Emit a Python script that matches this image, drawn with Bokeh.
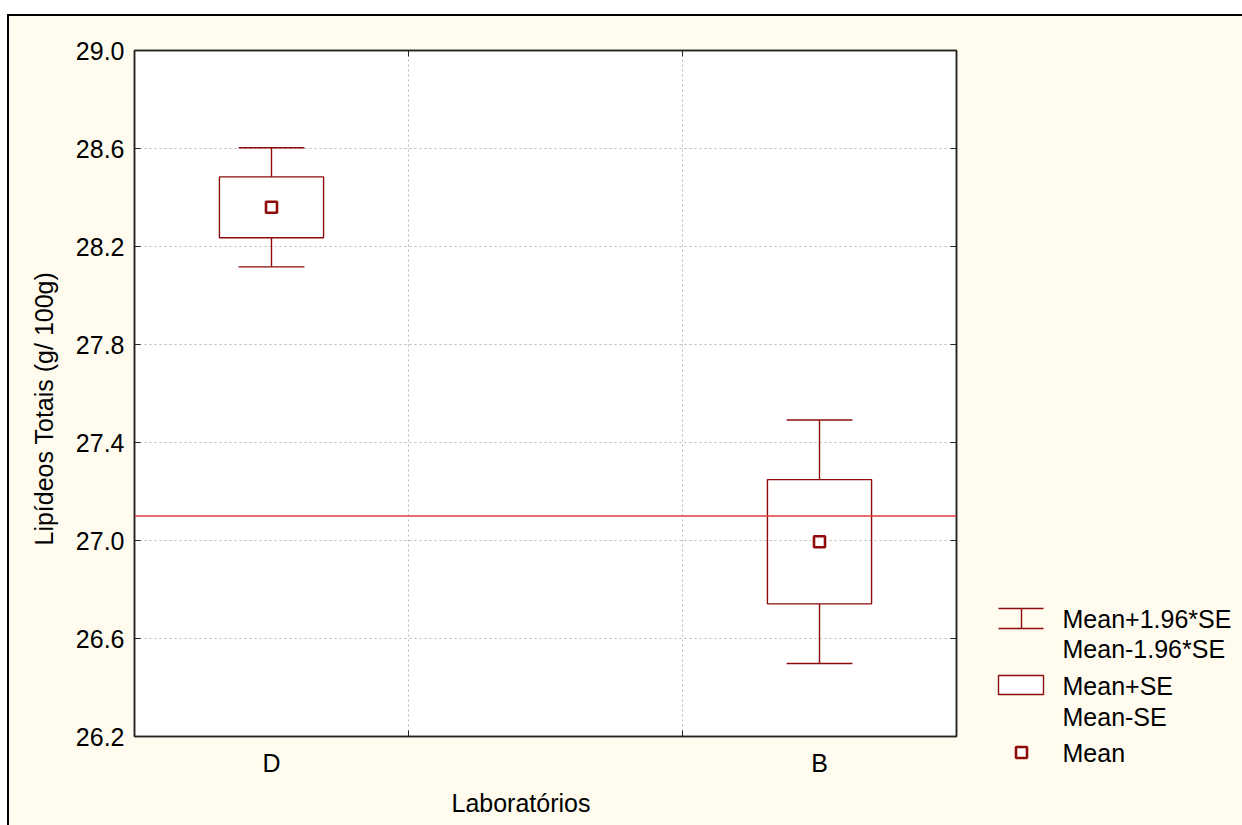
from bokeh.plotting import figure
from bokeh.models import Range1d, FixedTicker, LinearAxis, Span, Title, NumeralTickFormatter
from bokeh.layouts import row
from bokeh.embed import file_html
from bokeh.resources import INLINE

# ---- data -------------------------------------------------------------
labs = ["D", "B"]                 # laboratories
means = [28.36, 26.995]           # mean total lipids (g/100g)
se = [0.124, 0.2535]              # standard error of each mean
overall_mean = 27.10              # reference line across both labs
y_ticks = [26.2, 26.6, 27.0, 27.4, 27.8, 28.2, 28.6, 29.0]
legend_labels = ["Mean+1.96*SE", "Mean-1.96*SE", "Mean+SE", "Mean-SE", "Mean"]

# ---- style ------------------------------------------------------------
CREAM = "#FFFCEF"
DARKRED = "#8E0B0B"
RED = "#E23A3A"
FONT = "Liberation Sans"
FS = "25px"

xpos = [0.5 + 2 * i for i in range(len(labs))]
box_lo = [m - s for m, s in zip(means, se)]
box_hi = [m + s for m, s in zip(means, se)]
wh_lo = [m - 1.96 * s for m, s in zip(means, se)]
wh_hi = [m + 1.96 * s for m, s in zip(means, se)]
BOX_W = 0.38
CAP_W = 0.24

# page geometry: chart canvas starts at (9, 16); key panel starts at x = 980
FRAME_L, FRAME_R, FRAME_T, FRAME_B = 134, 956, 50, 736
KEY_X = 980

p = figure(width=KEY_X - 9, height=809, x_range=Range1d(0, 3), y_range=Range1d(y_ticks[0], y_ticks[-1]),
           output_backend="svg", toolbar_location=None,
           min_border_left=FRAME_L - 9, min_border_right=KEY_X - FRAME_R,
           min_border_top=FRAME_T - 16, min_border_bottom=825 - FRAME_B,
           background_fill_color="white", border_fill_color=CREAM,
           outline_line_color="#222222", outline_line_width=1.5)
p.frame_align = False

# bottom axis: category labels, inward ticks at the slot boundaries
xa = p.xaxis[0]
xa.ticker = FixedTicker(ticks=xpos, minor_ticks=[1, 2])
xa.major_label_overrides = {x: l for x, l in zip(xpos, labs)}
xa.major_tick_in = 0
xa.major_tick_out = 0
xa.minor_tick_in = 6
xa.minor_tick_out = 0
xa.major_label_standoff = 12

ya = p.yaxis[0]
ya.ticker = FixedTicker(ticks=y_ticks)
ya.formatter = NumeralTickFormatter(format="0.0")
ya.major_tick_in = 6
ya.major_tick_out = 0
ya.major_label_standoff = 10

top = LinearAxis(ticker=FixedTicker(ticks=[], minor_ticks=[1, 2]),
                 minor_tick_in=6, minor_tick_out=0, major_tick_in=0, major_tick_out=0)
right = LinearAxis(ticker=FixedTicker(ticks=y_ticks), major_tick_in=6, major_tick_out=0)
p.add_layout(top, "above")
p.add_layout(right, "right")

for ax in [xa, ya, top, right]:
    ax.axis_line_color = "#222222"
    ax.axis_line_width = 1.5
    ax.major_tick_line_color = "#222222"
    ax.major_label_text_font = FONT
    ax.major_label_text_color = "black"
    ax.major_label_text_font_size = FS
for ax in [ya, right]:
    ax.minor_tick_line_color = None
for ax in [xa, top]:
    ax.minor_tick_line_color = "#222222"
# the mirrored axes only carry tick marks
for ax in [top, right]:
    ax.major_label_text_color = None
    ax.major_label_text_font_size = "8px"
    ax.major_label_standoff = 0

p.xgrid.ticker = FixedTicker(ticks=[1, 2])
p.ygrid.ticker = FixedTicker(ticks=y_ticks)
for g in [p.xgrid[0], p.ygrid[0]]:
    g.grid_line_color = "#b8b8b8"
    g.grid_line_dash = "2 3"
    g.grid_line_width = 1

p.add_layout(Title(text="Laboratórios", align="left", offset=317, text_font=FONT, text_color="black",
                   text_font_size=FS, text_font_style="normal", standoff=14), "below")
p.add_layout(Title(text="Lipídeos Totais (g/ 100g)", align="left", offset=191, text_font=FONT,
                   text_color="black", text_font_size=FS, text_font_style="normal", standoff=30), "left")

# reference line
p.add_layout(Span(location=overall_mean, dimension="width", line_color=RED, line_width=1.3))

# whiskers: stems and caps
p.segment(x0=xpos, y0=box_hi, x1=xpos, y1=wh_hi, line_color=DARKRED, line_width=1.4)
p.segment(x0=xpos, y0=wh_lo, x1=xpos, y1=box_lo, line_color=DARKRED, line_width=1.4)
p.segment(x0=[x - CAP_W / 2 for x in xpos], y0=wh_hi, x1=[x + CAP_W / 2 for x in xpos], y1=wh_hi,
          line_color=DARKRED, line_width=1.4)
p.segment(x0=[x - CAP_W / 2 for x in xpos], y0=wh_lo, x1=[x + CAP_W / 2 for x in xpos], y1=wh_lo,
          line_color=DARKRED, line_width=1.4)
# SE boxes
p.quad(left=[x - BOX_W / 2 for x in xpos], right=[x + BOX_W / 2 for x in xpos], bottom=box_lo, top=box_hi,
       fill_color=None, line_color=DARKRED, line_width=1.4)
# means
p.scatter(x=xpos, y=means, marker="square", size=11, fill_color="white", line_color=DARKRED, line_width=2.6)

# ---- key panel, drawn in page pixel coordinates --------------------------
lf = figure(width=1242 - KEY_X, height=809, x_range=Range1d(KEY_X, 1242), y_range=Range1d(825, 16),
            output_backend="svg", toolbar_location=None, x_axis_location=None, y_axis_location=None,
            min_border=0, border_fill_color=CREAM, background_fill_color=CREAM,
            outline_line_color=None)
lf.frame_align = False
lf.grid.visible = False

ICON_L, ICON_R, ICON_C = 998, 1043, 1021
lf.segment(x0=[ICON_L, ICON_L, ICON_C], y0=[608, 628, 608], x1=[ICON_R, ICON_R, ICON_C], y1=[608, 628, 628],
           line_color=DARKRED, line_width=1.4)
lf.quad(left=[ICON_L], right=[ICON_R], top=[675], bottom=[694], fill_color="white",
        line_color=DARKRED, line_width=1.4)
lf.scatter(x=[ICON_C], y=[752], marker="square", size=11, fill_color="white", line_color=DARKRED, line_width=2.6)
lf.text(x=[1062] * 5, y=[618, 648, 685, 716, 752], text=legend_labels, text_font={"value": FONT},
        text_font_size={"value": "25px"}, text_color="black", text_baseline="middle")

layout = row(p, lf, margin=(14, 0, 0, 7),
             styles={"background-color": CREAM, "border-top": "2px solid black",
                     "border-left": "2px solid black"})

open("out.html", "w").write(file_html(layout, INLINE))
